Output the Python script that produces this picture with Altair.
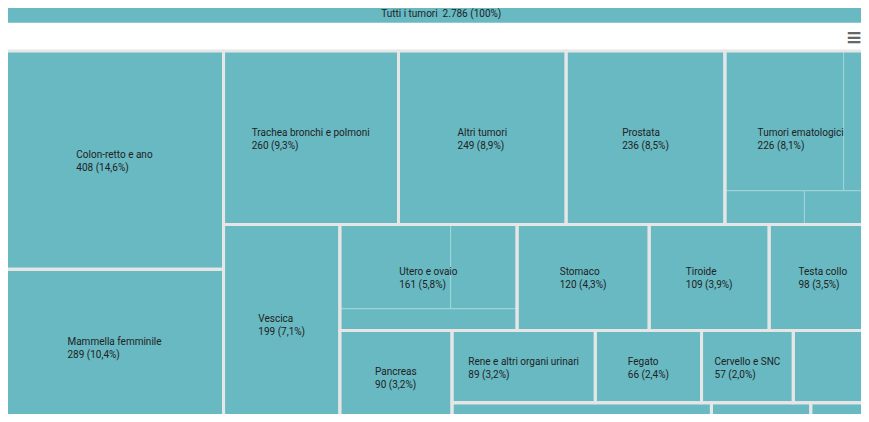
import altair as alt
import pandas as pd

# ---------------- data ----------------
root_label = "Tutti i tumori"
root_value = 2786

categories = [
    "Colon-retto e ano", "Mammella femminile", "Trachea bronchi e polmoni",
    "Altri tumori", "Prostata", "Tumori ematologici", "Vescica",
    "Utero e ovaio", "Stomaco", "Tiroide", "Testa collo", "Pancreas",
    "Rene e altri organi urinari", "Fegato", "Cervello e SNC",
    "n.d. 1", "n.d. 2", "n.d. 3", "n.d. 4",
]
values = [408, 289, 260, 249, 236, 226, 199, 161, 120, 109, 98, 90, 89, 66, 57,
          52, 47, 18, 12]
labelled = [True] * 15 + [False] * 4

# sub-cells (second level) drawn with thin borders
children = {
    "Tumori ematologici": [142, 40, 23, 21],
    "Utero e ovaio": [80, 48, 33],
}

# ---------------- layout constants ----------------
TEAL = "#68b9c2"
GAP = "#e6e6e6"
FONT = "Roboto"
FS = 10
X0, Y0, W, H = 5.5, 51.0, 871.5, 373.0     # treemap box (page px)
VIEW_W, VIEW_H = 853, 406                  # visible plot area (page minus margins)


def squarified(vals, x, y, w, h, direction):
    """Highcharts-like squarified layout with alternating direction."""
    tot = float(sum(vals))
    k = w * h / tot
    areas = [v * k for v in vals]
    out = [None] * len(vals)
    rect = [x, y, w, h]
    state = {"d": direction}

    def ratio(group, idx):
        s = sum(areas[i] for i in group)
        a = areas[idx]
        if state["d"] == 0:
            sw = s / rect[3]
            lh = a / sw
            return max(sw / lh, lh / sw)
        sh = s / rect[2]
        lw = a / sh
        return max(sh / lw, lw / sh)

    def place(group):
        s = sum(areas[i] for i in group)
        if state["d"] == 0:
            sw = s / rect[3]
            yy = rect[1]
            for i in group:
                hh = areas[i] / sw
                out[i] = (rect[0], yy, rect[0] + sw, yy + hh)
                yy += hh
            rect[0] += sw
            rect[2] -= sw
        else:
            sh = s / rect[2]
            xx = rect[0]
            for i in group:
                ww = areas[i] / sh
                out[i] = (xx, rect[1], xx + ww, rect[1] + sh)
                xx += ww
            rect[1] += sh
            rect[3] -= sh
        state["d"] = 1 - state["d"]

    group = []
    for i in range(len(vals)):
        if group:
            last = group[-1]
            if ratio(group + [i], last) > ratio(group, last):
                place(group)
                group = [i]
                continue
        group.append(i)
    if group:
        place(group)
    return out


# Roboto-like advance widths (1/1000 em) for label block centring
_w = {" ": 248, "a": 543, "b": 561, "c": 523, "d": 564, "e": 530, "f": 347,
      "g": 561, "h": 551, "i": 243, "j": 239, "k": 507, "l": 243, "m": 876,
      "n": 552, "o": 570, "p": 561, "q": 568, "r": 338, "s": 516, "t": 327,
      "u": 551, "v": 484, "w": 751, "x": 496, "y": 473, "z": 496,
      "A": 653, "C": 652, "F": 553, "M": 873, "N": 713, "P": 631, "R": 616,
      "S": 593, "T": 611, "U": 648, "V": 637, "(": 342, ")": 348, "%": 733,
      ",": 196, ".": 263, "-": 276}


def text_w(s, size=FS):
    return sum(_w.get(c, 561) for c in s) / 1000.0 * size


def fmt_int(v):
    return f"{v:,}".replace(",", ".")


def fmt_pct(v):
    return f"{v / root_value * 100:.1f}".replace(".", ",") + "%"


cells = squarified(values, X0, Y0, W, H, 0)

cell_rows, label_rows, child_rows = [], [], []
for name, v, show, (x1, y1, x2, y2) in zip(categories, values, labelled, cells):
    cell_rows.append({"name": name, "value": v, "x": x1, "x2": x2, "y": y1, "y2": y2})
    if show:
        l1 = name
        l2 = f"{fmt_int(v)} ({fmt_pct(v)})"
        bw = max(text_w(l1), text_w(l2))
        cx, cy = (x1 + x2) / 2, (y1 + y2) / 2
        label_rows.append({"xl": cx - bw / 2, "y1": cy - 5.0, "y2": cy + 8.0,
                           "l1": l1, "l2": l2})
    if name in children:
        sub = squarified(children[name], x1, y1, x2 - x1, y2 - y1, 1)
        for (a1, b1, a2, b2), cv in zip(sub, children[name]):
            child_rows.append({"x": a1, "x2": a2, "y": b1, "y2": b2, "value": cv})

cells_df = pd.DataFrame(cell_rows)
labels_df = pd.DataFrame(label_rows)
child_df = pd.DataFrame(child_rows)
header_df = pd.DataFrame([{
    "x": X0, "x2": X0 + W, "y": 4.0, "y2": 22.7, "cx": X0 + W / 2, "cy": 14.0,
    "t": f"{root_label}\u00a0 {fmt_int(root_value)} (100%)",
}])
menu_df = pd.DataFrame([{"x": 854.0, "y": 38.0, "t": "\u2261"}])

xs = alt.Scale(domain=[8, 8 + VIEW_W], nice=False, zero=False)
ys = alt.Scale(domain=[8 + VIEW_H, 8], nice=False, zero=False)


def X(f):
    return alt.X(f, type="quantitative", scale=xs, axis=None)


def Y(f):
    return alt.Y(f, type="quantitative", scale=ys, axis=None)


header_bar = alt.Chart(header_df).mark_rect(color=TEAL).encode(
    x=X("x"), x2="x2", y=Y("y"), y2="y2")
header_text = alt.Chart(header_df).mark_text(
    font=FONT, fontSize=FS, color="#222222", align="center", baseline="middle"
).encode(x=X("cx"), y=Y("cy"), text="t:N")

cell_fill = alt.Chart(cells_df).mark_rect(color=TEAL).encode(
    x=X("x"), x2="x2", y=Y("y"), y2="y2",
    tooltip=["name:N", "value:Q"])
child_lines = alt.Chart(child_df).mark_rect(
    filled=False, stroke="#9fd4da", strokeWidth=1).encode(
    x=X("x"), x2="x2", y=Y("y"), y2="y2")
cell_border = alt.Chart(cells_df).mark_rect(
    filled=False, stroke=GAP, strokeWidth=3).encode(
    x=X("x"), x2="x2", y=Y("y"), y2="y2")

line1 = alt.Chart(labels_df).mark_text(
    font=FONT, fontSize=FS, color="#222222", align="left", baseline="middle"
).encode(x=X("xl"), y=Y("y1"), text="l1:N")
line2 = alt.Chart(labels_df).mark_text(
    font=FONT, fontSize=FS, color="#222222", align="left", baseline="middle"
).encode(x=X("xl"), y=Y("y2"), text="l2:N")

menu = alt.Chart(menu_df).mark_text(
    font="DejaVu Sans", fontSize=20, color="#666666", align="center",
    baseline="middle", fontWeight="bold"
).encode(x=X("x"), y=Y("y"), text="t:N")

chart = alt.layer(
    header_bar, header_text, cell_fill, child_lines, cell_border, line1, line2, menu
).properties(
    width=VIEW_W, height=VIEW_H, padding=0,
    autosize=alt.AutoSizeParams(type="none"), background="white",
).configure_view(stroke=None)

chart.save("out.html", embed_options={"renderer": "svg", "actions": False})
